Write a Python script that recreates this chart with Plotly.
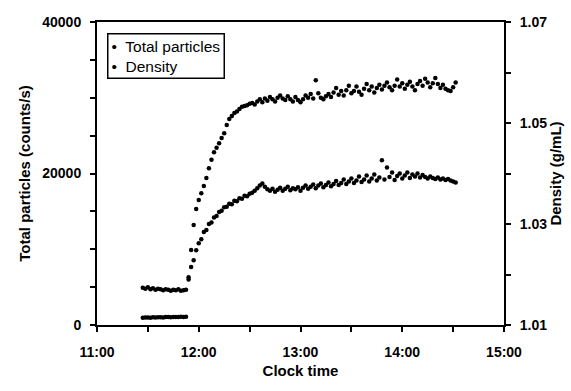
import plotly.graph_objects as go

start_minute = 27      # minutes after 11:00 of first sample
step_minutes = 1.5

total_particles = [
    950, 980, 1000, 970, 1010, 1000, 1030, 1020, 990, 1040, 1050, 1030, 1060, 1050, 1070, 1080, 1060, 1100,
    6300,
    9900, 13200, 15300, 16500, 17400, 18350, 19400, 20700, 21800, 22800, 23400, 24000,
    24700, 25300, 26400, 27200, 27600, 28000, 28200, 28500, 28800, 28900, 29000, 29200,
    29300, 29100, 29500, 29800, 29400, 29900, 29600, 30100, 29800, 29500,
    30000, 30300, 29900, 29700, 30200, 29800, 29500, 30100, 29700, 29400,
    29800, 30300, 30000, 30500, 29900, 32300, 30600, 30000, 29800, 30200,
    30500, 30100, 30700, 31300, 30400, 30900, 30300, 31000, 31600, 30600,
    30900, 31500, 30800, 30400, 31200, 31800, 31000, 31500, 30700, 31300,
    31700, 31100, 31600, 32000, 31400, 31000, 31600, 32400, 31500, 31900,
    31200, 31700, 32100, 31500, 31000, 31800, 32200, 31600, 32500, 32000,
    31400, 31900, 32600, 31800, 31300, 31700, 31200, 31000, 30900, 31400, 32000,
]

density = [
    1.0174, 1.0172, 1.0175, 1.0171, 1.0173, 1.0170, 1.0172, 1.0171, 1.0169, 1.0171, 1.0170, 1.0168,
    1.0170, 1.0169, 1.0171, 1.0168, 1.0169, 1.0170,
    1.0190,
    1.0215, 1.0228, 1.0248, 1.0262, 1.0270, 1.0284, 1.0288, 1.0300, 1.0303, 1.0313, 1.0316, 1.0324,
    1.0326, 1.0333, 1.0334, 1.0340, 1.0339, 1.0346, 1.0345, 1.0351, 1.0350, 1.0356, 1.0355, 1.0360,
    1.0362, 1.0366, 1.0371, 1.0376, 1.0380, 1.0374, 1.0369, 1.0366, 1.0370, 1.0364,
    1.0368, 1.0372, 1.0366, 1.0370, 1.0374, 1.0367, 1.0371, 1.0369, 1.0373, 1.0366,
    1.0372, 1.0376, 1.0370, 1.0374, 1.0378, 1.0371, 1.0376, 1.0380, 1.0373, 1.0377,
    1.0382, 1.0375, 1.0379, 1.0385, 1.0377, 1.0381, 1.0388, 1.0379, 1.0384, 1.0390,
    1.0381, 1.0386, 1.0394, 1.0383, 1.0388, 1.0396, 1.0384, 1.0390, 1.0398, 1.0386,
    1.0392, 1.0426, 1.0388, 1.0412, 1.0393, 1.0402, 1.0387, 1.0395, 1.0400, 1.0390,
    1.0396, 1.0402, 1.0391, 1.0398, 1.0394, 1.0400, 1.0392, 1.0397, 1.0393, 1.0390,
    1.0394, 1.0391, 1.0389, 1.0392, 1.0388, 1.0390, 1.0387, 1.0389, 1.0386, 1.0384, 1.0382,
]

x_tick_vals = [11, 12, 13, 14, 15]
x_tick_text = ["11:00", "12:00", "13:00", "14:00", "15:00"]
y_tick_vals = [0, 20000, 40000]
y_tick_text = ["0", "20000", "40000"]
y2_tick_vals = [1.01, 1.03, 1.05, 1.07]
y2_tick_text = ["1.01", "1.03", "1.05", "1.07"]
legend_names = ["Total particles", "Density"]


def clock_hours(n):
    return [11 + (start_minute + step_minutes * i) / 60.0 for i in range(n)]


FONT = "Liberation Sans, Arial, sans-serif"

fig = go.Figure()
fig.add_trace(go.Scatter(
    x=clock_hours(len(total_particles)), y=total_particles, mode="markers",
    name=legend_names[0], marker=dict(color="black", size=4.5), yaxis="y",
    showlegend=False,
))
fig.add_trace(go.Scatter(
    x=clock_hours(len(density)), y=density, mode="markers",
    name=legend_names[1], marker=dict(color="black", size=4.5), yaxis="y2",
    showlegend=False,
))

tick_font = dict(family=FONT, size=14, color="black", weight="bold")
title_font = dict(family=FONT, size=15, color="black", weight="bold")

fig.update_layout(
    width=571, height=391,
    margin=dict(l=97, r=67, t=22, b=66, autoexpand=False),
    paper_bgcolor="white", plot_bgcolor="white",
    showlegend=False,
    xaxis=dict(
        range=[11, 15], tickvals=x_tick_vals, ticktext=x_tick_text,
        ticks="outside", ticklen=5, tickwidth=1.5, tickcolor="black",
        minor=dict(dtick=0.5, tick0=11, ticks="outside", ticklen=5, tickwidth=1.5, tickcolor="black"),
        showline=True, linecolor="black", linewidth=2, mirror=True,
        showgrid=False, zeroline=False,
        tickfont=tick_font, ticklabelstandoff=8,
        title=dict(text="Clock time", font=title_font, standoff=7),
    ),
    yaxis=dict(
        range=[0, 40000], tickvals=y_tick_vals, ticktext=y_tick_text,
        ticks="outside", ticklen=5, tickwidth=1.5, tickcolor="black",
        minor=dict(dtick=5000, tick0=0, ticks="outside", ticklen=5, tickwidth=1.5, tickcolor="black"),
        showline=True, linecolor="black", linewidth=2,
        showgrid=False, zeroline=False,
        tickfont=tick_font, ticklabelstandoff=6,
        title=dict(text="Total particles (counts/s)", font=title_font, standoff=8),
    ),
    yaxis2=dict(
        range=[1.01, 1.07], tickvals=y2_tick_vals, ticktext=y2_tick_text,
        overlaying="y", side="right",
        ticks="outside", ticklen=5, tickwidth=1.5, tickcolor="black",
        minor=dict(dtick=0.01, tick0=1.01, ticks="outside", ticklen=5, tickwidth=1.5, tickcolor="black"),
        showline=True, linecolor="black", linewidth=2,
        showgrid=False, zeroline=False,
        tickfont=tick_font, ticklabelstandoff=6,
        title=dict(text="Density (g/mL)", font=title_font, standoff=4),
    ),
    annotations=[dict(
        xref="paper", yref="paper", x=0.0246, y=0.9637, xanchor="left", yanchor="top",
        text="•  " + legend_names[0] + "<br>•  " + legend_names[1],
        align="left", showarrow=False,
        font=dict(family=FONT, size=15.5, color="black"),
        bordercolor="black", borderwidth=1.5, borderpad=3, bgcolor="white",
    )],
)

fig.write_html("out.html")
